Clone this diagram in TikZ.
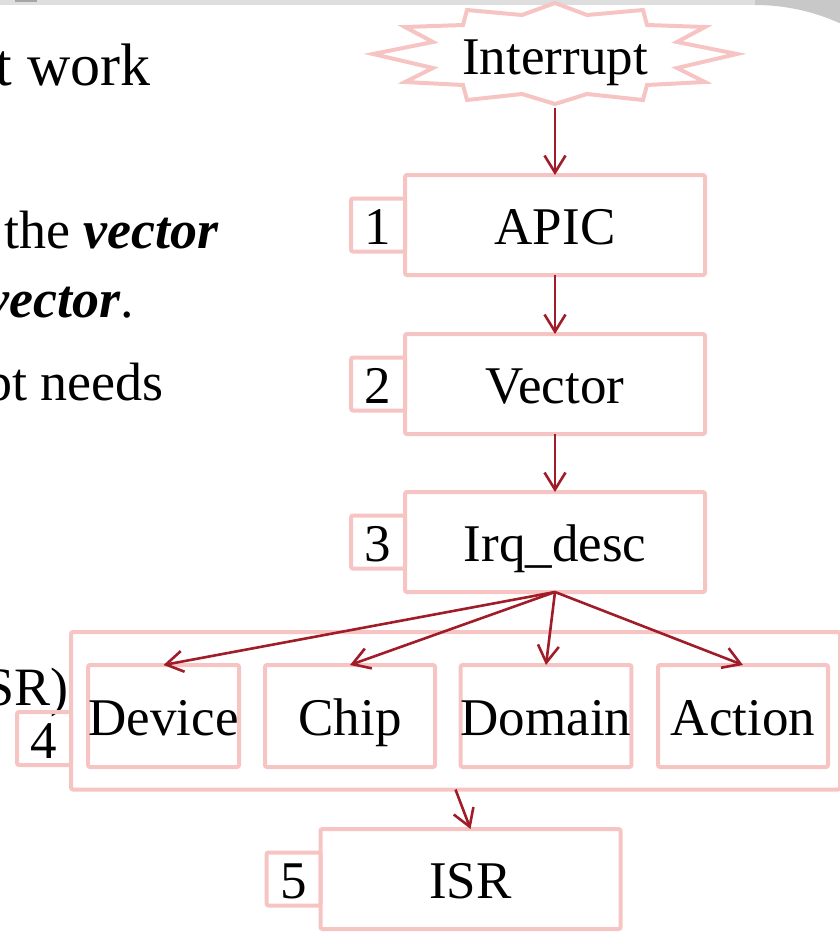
\documentclass[tikz,border=0pt]{standalone}
\usepackage{fontspec}
\setmainfont{Liberation Serif}
\usetikzlibrary{arrows.meta,calc}
\definecolor{boxpink}{RGB}{247,196,196}
\definecolor{linkred}{RGB}{160,28,40}
\definecolor{frameA}{RGB}{222,222,222}
\definecolor{frameB}{RGB}{200,200,200}
\definecolor{frameC}{RGB}{165,165,165}
\newcommand{\diagfont}{\fontsize{26.5pt}{30pt}\selectfont}
\newcommand{\bodyfont}{\fontsize{27pt}{32pt}\selectfont}
\newcommand{\titlefont}{\fontsize{30pt}{36pt}\selectfont}
\tikzset{
  stage/.style={draw=boxpink, line width=2pt, rounded corners=1pt, inner sep=0pt,
    outer sep=0pt, font=\diagfont, minimum width=150pt, minimum height=50pt,
    text height=21pt, text depth=1.5pt},
  tag/.style={draw=boxpink, line width=2pt, rounded corners=1pt, inner sep=0pt,
    outer sep=0pt, font=\diagfont, minimum width=27pt, minimum height=26.5pt, anchor=east,
    text height=21pt, text depth=1.5pt},
  part/.style={stage, minimum width=85pt, minimum height=51pt},
  slidetext/.style={inner sep=0pt, font=\bodyfont},
  link/.style={draw=linkred, line width=1.3pt, -{Straight Barb[length=8.5pt,width=10.5pt]}},
  burstline/.style={draw=boxpink, line width=2pt},
}
\begin{document}
\begin{tikzpicture}[x=0.5pt,y=-0.5pt]
\useasboundingbox (0,0) rectangle (840,932);

% slide frame: top band and rounded corner
\fill[frameA] (0,0) rectangle (840,5);
\fill[frameC] (15,0) rectangle (37,2);
\fill[frameB] (755,0) -- (755,5) .. controls (784.4,5) and (813.2,11.2) .. (840,23.3) -- (840,0) -- cycle;

% slide text
\node[anchor=base east, inner sep=0pt, font=\titlefont] (title) at (151,85) {t work};
\node[slidetext, anchor=base west] (line1) at (4,248) {the \textbf{\textit{vector}}};
\node[slidetext, anchor=base west] (line2) at (-15,317) {\textbf{\textit{vector}}.};
\node[slidetext, anchor=base west] (line3) at (-15,400) {pt needs};
\node[slidetext, anchor=base east] (line4) at (69,705) {SR)};

% interrupt starburst
\draw[burstline] (555,3) -- (587,15) -- (643,10) -- (647,25) -- (705,27) -- (677,42)
  -- (737,54) -- (677,68) -- (705,82) -- (647,85) -- (643,100) -- (587,94)
  -- (555,104) -- (522,94) -- (467,100) -- (463,85) -- (405,82) -- (433,68)
  -- (373,54) -- (433,42) -- (405,27) -- (463,25) -- (467,10) -- (522,15) -- cycle;
\node[anchor=base, inner sep=0pt, font=\diagfont] (intr) at (555,74) {Interrupt};
\coordinate (burst) at (555,108);

% chain of stages
\node[stage] (apic) at (555,225) {APIC};
\node[tag] (t1) at (apic.west) {1};
\node[stage] (vector) at (555,384) {Vector};
\node[tag] (t2) at (vector.west) {2};
\node[stage] (irq) at (555,542) {Irq\_desc};
\node[tag] (t3) at (irq.west) {3};

% irq_desc members
\node[draw=boxpink, line width=2pt, rounded corners=1pt, inner sep=0pt, outer sep=0pt,
  minimum width=384.5pt, minimum height=78.75pt] (grp) at (455.5,710.75) {};
\node[tag] (t4) at ($(grp.west)+(0,27.75)$) {4};
\node[part, minimum width=75.5pt] (dev) at (163.5,716) {Device};
\node[part] (chip) at (350,716) {Chip};
\node[part] (dom) at (546,716) {Domain};
\node[part] (act) at (743,716) {Action};

\node[stage] (isr) at (470.5,879) {ISR};
\node[tag] (t5) at (isr.west) {5};

% connectors
\draw[link] (burst) -- (apic.north);
\draw[link] (apic.south) -- (vector.north);
\draw[link] (vector.south) -- (irq.north);
\draw[link] (irq.south) -- (dev.north);
\draw[link] (irq.south) -- (chip.north);
\draw[link] (irq.south) -- (dom.north);
\draw[link] (irq.south) -- (act.north);
\draw[link] (grp.south) -- (isr.north);
\end{tikzpicture}
\end{document}
